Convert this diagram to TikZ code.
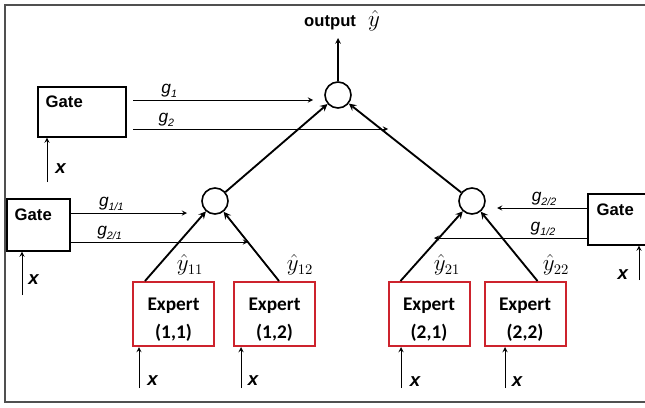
\documentclass[tikz,border=0pt]{standalone}
\usepackage{fontspec}
\setmainfont{Liberation Sans}
\newfontfamily\expertfont{Carlito}
\usetikzlibrary{positioning, calc}
\definecolor{expertred}{RGB}{205,35,45}
\definecolor{framegray}{RGB}{80,80,80}
\newcommand{\gw}[1]{{\fontsize{13}{13}\selectfont\itshape g\raisebox{-0.4ex}{\fontsize{8}{8}\selectfont #1}}}
\newcommand{\xin}{{\fontsize{14}{14}\selectfont\bfseries\itshape x}}

\begin{document}
\begin{tikzpicture}[x=0.75pt, y=-0.75pt,
	gatebox/.style={rectangle, draw, line width=0.8pt},
	expertbox/.style={rectangle, draw=expertred, line width=1.5pt, minimum width=60.75pt, minimum height=48pt, align=center, font=\expertfont\bfseries\fontsize{14.5}{21}\selectfont},
	sumnode/.style={circle, draw, line width=1.2pt, minimum size=19.5pt, inner sep=0pt},
	gatelabel/.style={anchor=west, inner sep=0pt, font=\fontsize{12.5}{14}\selectfont\bfseries},
	xlabel/.style={inner sep=0pt},
	conn/.style={-stealth, line width=1.4pt}]
			\useasboundingbox (0,0) rectangle (645,407);
			\draw[framegray, line width=1.5pt] (660,4.5) -- (5,4.5) -- (5,401.5) -- (660,401.5);
			
			\node[sumnode] (Top) at (338,95) {};
			\node[sumnode] (C1) at (215,201) {};
			\node[sumnode] (C2) at (472,201) {};
			
			\node[expertbox] (Expert) at (173.5,314) {\rule{0pt}{18pt}Expert\\(1,1)};
			\node[expertbox, right=13.5pt of Expert] (Expert2) {\rule{0pt}{18pt}Expert\\(1,2)};
			\node[expertbox] (Expert3) at (429,314) {\rule{0pt}{18pt}Expert\\(2,1)};
			\node[expertbox, right=9.75pt of Expert3] (Expert4) {\rule{0pt}{18pt}Expert\\(2,2)};
			
			\node[gatebox, minimum width=66pt, minimum height=37.5pt] (Gate) at (82,112) {};
			\node[gatebox, minimum width=47.25pt, minimum height=39pt] (Gate2) at (38.5,225) {};
			\node[gatebox, minimum width=46.5pt, minimum height=38.25pt] (Gate3) at (619,219.5) {};
			\node[gatelabel] (GateT) at ($(Gate.north west)+(8,15)$) {Gate};
			\node[gatelabel] (GateT2) at ($(Gate2.north west)+(8,16)$) {Gate};
			\node[gatelabel] (GateT3) at ($(Gate3.north west)+(9,16)$) {Gate};
			
			\coordinate (OutTip) at (338,38);
			\node (Out) at (342,21) {\fontsize{12.5}{14}\selectfont\bfseries output\hspace{9pt}{\fontsize{16}{16}\selectfont$\hat{y}$}};
			
			\node (Y11) at (190,265) {\fontsize{16}{16}\selectfont$\hat{y}_{11}$};
			\node (Y12) at (300,265) {\fontsize{16}{16}\selectfont$\hat{y}_{12}$};
			\node (Y21) at (447,265) {\fontsize{16}{16}\selectfont$\hat{y}_{21}$};
			\node (Y22) at (556,265) {\fontsize{16}{16}\selectfont$\hat{y}_{22}$};
			
			% gate outputs
			\coordinate (G1) at (313,100);
			\coordinate (G2) at (388,129);
			\coordinate (G11) at (187,213);
			\coordinate (G21) at (248,242);
			\coordinate (G22) at (497,208);
			\coordinate (G12) at (434,238);
			\draw[-stealth, line width=0.75pt] ([xshift=5pt]Gate.east |- G1) -- node[above, pos=0.2, inner sep=1.5pt] {\gw{1}} (G1);
			\draw[-stealth, line width=0.75pt] ([xshift=5pt]Gate.east |- G2) -- node[above, pos=0.13, inner sep=1.5pt] {\gw{2}} (G2);
			\draw[-stealth, line width=0.75pt] (Gate2.east |- G11) -- node[above, pos=0.35, inner sep=1.5pt] {\gw{1/1}} (G11);
			\draw[-stealth, line width=0.75pt] (Gate2.east |- G21) -- node[above, pos=0.22, inner sep=1.5pt] {\gw{2/1}} (G21);
			\draw[-stealth, line width=0.75pt] (Gate3.west |- G22) -- node[above, pos=0.48, inner sep=1.5pt] {\gw{2/2}} (G22);
			\draw[-stealth, line width=0.75pt] (Gate3.west |- G12) -- node[above, pos=0.29, inner sep=1.5pt] {\gw{1/2}} (G12);
			
			% tree
			\draw[conn] ([xshift=9.75pt]Expert.north west) -- (C1);
			\draw[conn] ([xshift=34.5pt]Expert2.north west) -- (C1);
			\draw[conn] ([xshift=9.75pt]Expert3.north west) -- (C2);
			\draw[conn] ([xshift=40.5pt]Expert4.north west) -- (C2);
			\draw[conn] (C1) -- (Top);
			\draw[conn] (C2) -- (Top);
			\draw[-stealth, line width=0.9pt] (Top) -- (OutTip);
			
			% inputs
			\coordinate (X0) at (47,182);
			\coordinate (X02) at (22,295);
			\coordinate (X03) at (639,280);
			\coordinate (X1) at (139,388);
			\coordinate (X2) at (241,388);
			\coordinate (X3) at (401,388);
			\coordinate (X4) at (505,388);
			\draw[-stealth, line width=0.75pt] (X0) -- (X0 |- Gate.south);
			\draw[-stealth, line width=0.75pt] (X02) -- (X02 |- Gate2.south);
			\draw[-stealth, line width=0.75pt] (X03) -- (X03 |- Gate3.south);
			\draw[-stealth, line width=0.75pt] (X1) -- (X1 |- Expert.south);
			\draw[-stealth, line width=0.75pt] (X2) -- (X2 |- Expert2.south);
			\draw[-stealth, line width=0.75pt] (X3) -- (X3 |- Expert3.south);
			\draw[-stealth, line width=0.75pt] (X4) -- (X4 |- Expert4.south);
			\node[xlabel, above right=6.5pt and 6pt of X0] (XL0) {\xin};
			\node[xlabel, above right=7.5pt and 4.5pt of X02] (XL02) {\xin};
			\node[xlabel, above left=0pt and 8pt of X03] (XL03) {\xin};
			\node[xlabel, above right=2pt and 6pt of X1] (XL1) {\xin};
			\node[xlabel, above right=2pt and 5pt of X2] (XL2) {\xin};
			\node[xlabel, above right=1pt and 6.5pt of X3] (XL3) {\xin};
			\node[xlabel, above right=1pt and 5pt of X4] (XL4) {\xin};
		\end{tikzpicture}
\end{document}
